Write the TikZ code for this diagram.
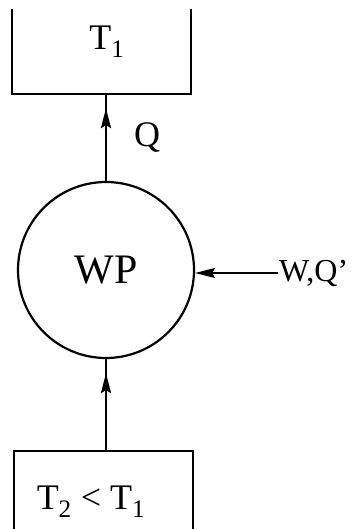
\documentclass[tikz,border=0pt]{standalone}
\usepackage{fontspec}
\setmainfont{Liberation Serif}
\usetikzlibrary{arrows.meta,decorations.markings}

\begin{document}
\begin{tikzpicture}[x=1pt,y=1pt,>={Stealth[length=20pt,width=10pt,inset=3pt]},line width=2.2pt,
  reservoir/.style={draw=none,minimum width=177pt,inner sep=0pt},
  flowup/.style={postaction={decorate},decoration={markings,mark=at position -14pt with {\arrow{>}}}},
  lbl/.style={font=\fontsize{36}{40}\selectfont,inner sep=0pt}]
\useasboundingbox (0,0) rectangle (358,-529);
% reservoirs
\node[reservoir,minimum height=83pt] (hot) at (101.5,-51.5) {};
\node[lbl] (hotlabel) at (107,-42) {T\textsubscript{1}};
\draw (hot.north west) -- (hot.south west) -- (hot.south east) -- (hot.north east);
\node[reservoir,minimum height=100pt] (cold) at (103.5,-502) {};
\node[lbl] (coldlabel) at (91,-502) {T\textsubscript{2} < T\textsubscript{1}};
\draw (cold.south west) -- (cold.north west) -- (cold.north east) -- (cold.south east);
% heat pump
\node[draw,circle,minimum size=176pt,inner sep=0pt,font=\fontsize{42}{46}\selectfont] (wp) at (106,-270) {WP};
\draw[flowup] (wp.north) -- (wp.north |- hot.south);
\node[lbl] (q) at (147,-138) {Q};
\draw[flowup] (cold.north -| wp.south) -- (wp.south);
% work input
\node[lbl,anchor=west,font=\fontsize{32}{36}\selectfont] (wq) at (278,-273) {W,Q'};
\draw[->] (wq.west) -- (wq.west -| wp.east);
\end{tikzpicture}
\end{document}
